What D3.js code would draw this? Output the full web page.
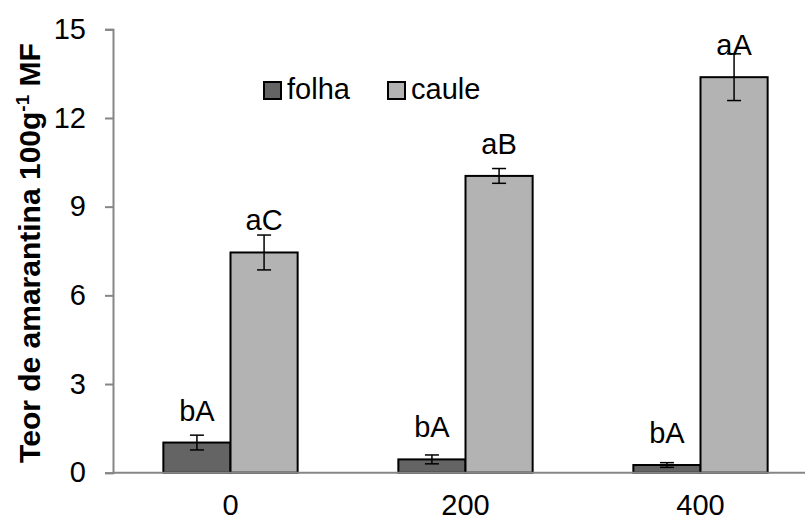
<!DOCTYPE html>
<html lang="pt">
<head>
<meta charset="UTF-8"/>
<title>Teor de amarantina</title>
<script src="https://d3js.org/d3.v7.min.js"></script>
<style>
  body { margin: 0; background: #fff; }
  text { font-family: "Liberation Sans", Arial, sans-serif; fill: #000; }
</style>
</head>
<body>
<script>
  var doses = ["0", "200", "400"];
  var series = ["folha", "caule"];
  var folha = [1.02, 0.45, 0.26];
  var folhaErr = [0.25, 0.15, 0.08];
  var caule = [7.45, 10.04, 13.38];
  var cauleErr = [0.59, 0.25, 0.79];
  var folhaLetters = ["bA", "bA", "bA"];
  var cauleLetters = ["aC", "aB", "aA"];
  var yTicks = [0, 3, 6, 9, 12, 15];

  var colors = { folha: "#646464", caule: "#b3b3b3" };

  var w = 805, h = 520;
  var plotLeft = 113, plotTop = 29.3, plotBottom = 472.7;
  var bandW = 235;
  var fontPx = "29px";

  var svg = d3.select("body").append("svg")
      .attr("width", w)
      .attr("height", h);

  var x = d3.scaleBand().domain(doses).range([plotLeft, plotLeft + bandW * doses.length]);
  var y = d3.scaleLinear().domain([0, 15]).range([plotBottom, plotTop]);
  var barW = bandW / 3.5;

  var rows = doses.map(function(d, i) {
    return [
      { dose: d, s: "folha", v: folha[i], e: folhaErr[i], lab: folhaLetters[i], off: -barW },
      { dose: d, s: "caule", v: caule[i], e: cauleErr[i], lab: cauleLetters[i], off: 0 }
    ];
  }).flat();

  function cx(d) { return x(d.dose) + bandW / 2 + d.off + barW / 2; }

  // bars
  svg.selectAll("rect.bar").data(rows).enter().append("rect")
      .attr("class", "bar")
      .attr("x", function(d) { return cx(d) - barW / 2; })
      .attr("y", function(d) { return y(d.v); })
      .attr("width", barW)
      .attr("height", function(d) { return y(0) - y(d.v); })
      .attr("fill", function(d) { return colors[d.s]; })
      .attr("stroke", "#000")
      .attr("stroke-width", 2);

  // error bars
  var eb = svg.selectAll("g.err").data(rows).enter().append("g")
      .attr("class", "err")
      .attr("transform", function(d) { return "translate(" + cx(d) + ",0)"; })
      .attr("stroke", "#000")
      .attr("stroke-width", 1.5);
  eb.append("line").attr("y1", function(d) { return y(d.v + d.e); }).attr("y2", function(d) { return y(d.v - d.e); });
  eb.append("line").attr("x1", -7).attr("x2", 7).attr("y1", function(d) { return y(d.v + d.e); }).attr("y2", function(d) { return y(d.v + d.e); });
  eb.append("line").attr("x1", -7).attr("x2", 7).attr("y1", function(d) { return y(d.v - d.e); }).attr("y2", function(d) { return y(d.v - d.e); });

  // y axis
  var yAxis = svg.append("g")
      .attr("transform", "translate(" + plotLeft + ",0)")
      .call(d3.axisLeft(y).tickValues(yTicks).tickSize(8).tickPadding(19));
  yAxis.selectAll("path, line").attr("stroke", "#868686").attr("stroke-width", 2);
  yAxis.selectAll("text").style("font-size", fontPx).attr("fill", "#000")
      .style("font-family", "'Liberation Sans', Arial, sans-serif");

  // x axis
  var xAxis = svg.append("g")
      .attr("transform", "translate(0," + plotBottom + ")")
      .call(d3.axisBottom(x).tickSize(0).tickPadding(22));
  xAxis.select("path").attr("d", "M" + plotLeft + ",0H" + w).attr("stroke", "#868686").attr("stroke-width", 2);
  xAxis.selectAll("text").style("font-size", fontPx).attr("fill", "#000")
      .style("font-family", "'Liberation Sans', Arial, sans-serif");

  // letters
  svg.selectAll("text.lab").data(rows).enter().append("text")
      .attr("class", "lab")
      .attr("x", cx)
      .attr("y", function(d) { return y(d.v) - 22; })
      .attr("text-anchor", "middle")
      .style("font-size", fontPx)
      .text(function(d) { return d.lab; });

  // y title
  var yt = svg.append("text")
      .attr("transform", "translate(40," + ((plotTop + plotBottom) / 2 + 2) + ") rotate(-90)")
      .attr("text-anchor", "middle")
      .style("font-size", "30px")
      .style("font-weight", "bold");
  yt.append("tspan").text("Teor de amarantina 100g");
  yt.append("tspan").attr("dy", -11).style("font-size", "19px").text("-1");
  yt.append("tspan").attr("dy", 11).text(" MF");

  // legend
  var legX = [264, 388];
  var lg = svg.selectAll("g.leg").data(series).enter().append("g")
      .attr("class", "leg")
      .attr("transform", function(d, i) { return "translate(" + legX[i] + ",82)"; });
  lg.append("rect").attr("width", 17).attr("height", 17)
      .attr("fill", function(d) { return colors[d]; })
      .attr("stroke", "#000").attr("stroke-width", 2);
  lg.append("text").attr("x", 23).attr("y", 17)
      .style("font-size", fontPx)
      .text(function(d) { return d; });
</script>
</body>
</html>
